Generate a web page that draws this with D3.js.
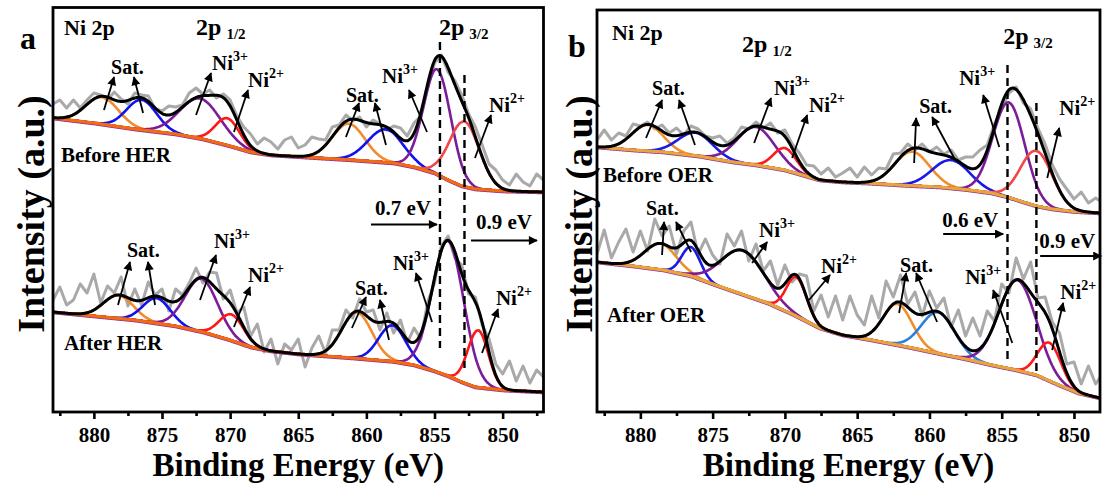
<!DOCTYPE html>
<html><head><meta charset="utf-8">
<script src="https://cdn.jsdelivr.net/npm/d3@7"></script>
<style>
body{margin:0;background:#fff}
text{font-family:"Liberation Serif","Times New Roman",serif;font-weight:bold;fill:#000}
</style>
</head><body>
<svg id="c" width="1102" height="491"></svg>
<script>
// ---------------- DATA ----------------
const tickValues = [880, 875, 870, 865, 860, 855, 850];
const minorTickValues = [882.5, 877.5, 872.5, 867.5, 862.5, 857.5, 852.5, 847.5];
const xTitle = "Binding Energy (eV)";
const yTitle = "Intensity (a.u.)";

// raw (gray) spectra, energy grids in eV (0.5 eV steps)
const rawEnergyA = d3.range(883, 846.99, -0.5);
const rawEnergyB = d3.range(883, 847.99, -0.5);
const rawBeforeHER = [308,312,304,312,304,312,319,317,312,320,313,308,319,317,316,303,301,306,305,307,319,324,318,322,314,318,312,296,285,278,268,274,270,263,272,275,264,267,275,273,272,285,287,297,291,295,285,292,288,282,286,284,276,289,296,324,349,357,340,331,317,298,285,267,248,242,232,227,238,230,226,238,232];
const rawAfterHER = [112,125,107,112,128,119,138,109,126,119,135,106,123,107,130,117,123,101,123,117,129,144,129,140,139,113,122,99,105,76,88,60,73,48,68,62,73,45,64,76,59,82,82,102,94,113,100,102,82,99,79,92,69,84,73,110,129,166,176,154,147,118,115,87,73,48,38,51,31,46,29,42,35];
const rawBeforeOER = [272,282,272,279,276,288,286,290,283,287,279,284,277,286,283,276,274,276,269,274,285,283,290,284,289,279,282,268,259,247,246,238,244,235,239,244,235,245,237,244,243,258,259,268,262,268,260,265,258,262,252,255,255,262,267,288,303,319,325,309,303,284,268,247,233,223,213,220,209,214,209];
const rawAfterOER = [158,182,154,170,183,160,181,161,193,176,186,158,181,190,158,173,157,148,178,166,181,151,168,141,151,127,147,130,138,136,101,117,95,116,92,116,97,87,116,94,131,115,137,108,120,96,121,104,114,85,102,76,94,76,101,91,128,119,154,133,150,114,115,90,79,48,50,28,46,28,39];

// Shirley-type backgrounds [eV, intensity]
const bgBeforeHER = [[883,294],[880,289],[877,283],[874,278],[872,273],[870,266],[868.5,260],[867,257],[864,254.5],[861,252],[858,249],[856.5,245],[855,239],[854,232],[853,226],[852,223],[850,221],[847,220]];
const bgAfterHER = [[883,100],[880,96],[877,92],[874,86],[872,80],[870,72],[868.5,65],[867,61],[865,58],[861,54],[858,50.5],[856.5,47],[855,41],[854,36],[853,30],[852,25],[850,22],[847,20]];
const bgBeforeOER = [[883,265],[880.5,262],[878.4,260],[876,256],[873.6,250],[872,247],[870,242],[868.8,237],[867.6,232],[866,230],[864,228.7],[861.5,226.5],[859.3,225],[857.5,222.5],[855.7,219],[854.6,215],[853.5,210],[852.6,206],[851.5,203],[850,200.5],[848.2,199]];
const bgAfterOER = [[883,150],[880.5,146],[878.4,142],[876.5,136],[874.8,127],[873,118],[871.2,109],[869.5,98],[867.6,84],[866,77],[864,72],[861.5,65],[859.2,58],[857.5,53],[855.7,47],[854,42],[852.6,37],[851.2,28],[849.7,19],[848.2,14]];

// fitted components: [centre eV, height, sigma eV]; order = Sat, Sat, Ni3+, Ni2+ (2p1/2), Sat, Sat, Ni3+, Ni2+ (2p3/2)
const componentNames = ["Sat.", "Sat.", "Ni3+", "Ni2+", "Sat.", "Sat.", "Ni3+", "Ni2+"];
const peaksBeforeHER = [[879.4,27,1.2],[876.5,30,1.1],[872.2,40,1.5],[870.2,27,0.9],[861.3,36,1.2],[858.6,33,1.3],[854.8,105,1.0],[852.8,65,1.1]];
const peaksAfterHER  = [[878.2,23,1.1],[875.4,25,1.0],[872.1,53,1.2],[869.9,26,0.9],[860.7,46,1.1],[858.1,36,1.0],[854.0,135,1.15],[851.8,57,0.75]];
const peaksBeforeOER = [[879.5,26,1.1],[876.2,23,1.2],[872.0,38,1.3],[870.0,22,0.8],[861.2,34,1.2],[858.5,28,1.3],[854.5,95,1.1],[852.6,55,1.1]];
const peaksAfterOER  = [[878.6,26,1.1],[876.5,29,0.65],[872.9,44,1.5],[869.2,39,0.7],[862.2,41,1.0],[859.4,41,1.15],[853.9,90,1.3],[851.7,38,0.8]];

// reference lines (eV)
const refLinesA = [854.6, 852.8];
const refLinesB = [854.6, 852.6];

// ---------------- LAYOUT / STYLE ----------------
const FONT = '"Liberation Serif","Times New Roman",serif';
const svg = d3.select("#c");
const defs = svg.append("defs");
defs.append("marker").attr("id","ah").attr("viewBox","0 0 10 10").attr("refX",9).attr("refY",5)
  .attr("markerWidth",10).attr("markerHeight",9).attr("markerUnits","userSpaceOnUse").attr("orient","auto")
  .append("path").attr("d","M0,0 L10,5 L0,10 z").attr("fill","#000");

const panels = [
  {id:"a", letter:"a", x0:53, x1:543.5, y0:7.5, y1:412, dom:[883,847],
   bgColor:"#F26A12", refLines:refLinesA,
   spectra:[
     {raw:rawBeforeHER, e:rawEnergyA, bg:bgBeforeHER, peaks:peaksBeforeHER, colors:["#F28A2E","#1212EE","#7B1D9A","#FF1616","#F28A2E","#1212EE","#7B1D9A","#F04848"]},
     {raw:rawAfterHER, e:rawEnergyA, bg:bgAfterHER, peaks:peaksAfterHER, colors:["#F28A2E","#1212EE","#7B1D9A","#FF1616","#F28A2E","#1212EE","#7B1D9A","#FF1616"]}
   ],
   refSpan:[[370,64],[337,44]],
   letterPos:[28,49], yTitleX:44,
   texts:[
     {t:"Ni 2p",e:882.19,i:377,fs:22},
     {t:"2p",sub:"1/2",e:872.5,i:377,fs:24},
     {t:"2p",sub:"3/2",e:854.67,i:377,fs:24},
     {t:"Sat.",e:878.74,i:338,fs:20},
     {t:"Ni",sup:"3+",e:871.33,i:342,fs:21},
     {t:"Ni",sup:"2+",e:868.69,i:325,fs:21},
     {t:"Sat.",e:861.5,i:310,fs:20},
     {t:"Ni",sup:"3+",e:858.85,i:329,fs:21},
     {t:"Ni",sup:"2+",e:851.0,i:300,fs:21},
     {t:"Before HER",e:882.41,i:250,fs:21},
     {t:"Sat.",e:877.57,i:155,fs:20},
     {t:"Ni",sup:"3+",e:871.18,i:164,fs:21},
     {t:"Ni",sup:"2+",e:868.69,i:130,fs:21},
     {t:"Sat.",e:860.83,i:117,fs:20},
     {t:"Ni",sup:"3+",e:858.05,i:142,fs:21},
     {t:"Ni",sup:"2+",e:850.49,i:107,fs:21},
     {t:"After HER",e:882.19,i:62,fs:21},
     {t:"0.7 eV",e:859.37,i:197,fs:21},
     {t:"0.9 eV",e:851.95,i:183,fs:21}
   ],
   arrows:[
     [879.26,302,878.52,335],[876.39,299,877.06,335],[872.5,297,871.4,339],[869.72,280,868.69,322],
     [861.5,275,860.54,309],[858.56,267,859.37,309],[855.55,280,856.87,322],[852.03,254,850.85,297],
     [878.23,107,877.35,150],[875.51,107,876.03,150],[872.21,112,871.04,157],[869.72,85,868.54,125],
     [861.06,84,860.03,115],[858.34,72,859.0,112],[855.18,90,856.36,139],[851.51,59,850.34,103],
     [859.66,187.5,854.82,187.5],[852.32,171.5,847.48,171.5]
   ]},
  {id:"b", letter:"b", x0:597, x1:1100, y0:10, y1:412, dom:[883,848.2],
   bgColor:"#E9A53C", refLines:refLinesB,
   spectra:[
     {raw:rawBeforeOER, e:rawEnergyB, bg:bgBeforeOER, peaks:peaksBeforeOER, colors:["#F08E2C","#1A1AE6","#7B1D9A","#FF1A1A","#F08E2C","#1A1AE6","#7B1D9A","#F04848"]},
     {raw:rawAfterOER, e:rawEnergyB, bg:bgAfterOER, peaks:peaksAfterOER, colors:["#F08E2C","#1A1AE6","#7B1D9A","#FF1A1A","#F08E2C","#2A80DA","#7B1D9A","#FF1A1A"]}
   ],
   refSpan:[[347,49],[309,36]],
   letterPos:[577,57], yTitleX:592,
   texts:[
     {t:"Ni 2p",e:881.96,i:372,fs:22},
     {t:"2p",sub:"1/2",e:872.96,i:360,fs:24},
     {t:"2p",sub:"3/2",e:854.9,i:368,fs:24},
     {t:"Sat.",e:879.19,i:317,fs:20},
     {t:"Ni",sup:"3+",e:870.75,i:317,fs:21},
     {t:"Ni",sup:"2+",e:868.33,i:300,fs:21},
     {t:"Sat.",e:860.71,i:299,fs:20},
     {t:"Ni",sup:"3+",e:857.94,i:327,fs:21},
     {t:"Ni",sup:"2+",e:851.02,i:297,fs:21},
     {t:"Before OER",e:882.58,i:230,fs:21},
     {t:"Sat.",e:879.61,i:197,fs:20},
     {t:"Ni",sup:"3+",e:871.79,i:175,fs:21},
     {t:"Ni",sup:"2+",e:867.5,i:139,fs:21},
     {t:"Sat.",e:862.03,i:140,fs:20},
     {t:"Ni",sup:"3+",e:857.53,i:128,fs:21},
     {t:"Ni",sup:"2+",e:850.95,i:113,fs:21},
     {t:"After OER",e:882.31,i:90,fs:21},
     {t:"0.6 eV",e:859.12,i:185,fs:21},
     {t:"0.9 eV",e:852.41,i:164,fs:21}
   ],
   arrows:[
     [879.61,274,878.5,312],[876.22,267,877.32,312],[872.13,269,870.96,314],[869.5,254,868.46,297],
     [861.06,249,860.92,294],[858.29,254,859.81,295],[855.17,265,856.28,317],[851.85,234,851.02,284],
     [878.5,157,878.36,190],[876.49,160,877.53,190],[872.27,149,871.23,170],[868.33,112,866.88,137],
     [862.1,99,861.61,139],[859.47,90,860.92,139],[854.27,69,855.59,122],[851.51,62,850.75,109],
     [859.05,178,854.9,178],[852.34,156,848.11,156]
   ]}
];

function gauss(e, c, h, s){ return h*Math.exp(-((e-c)*(e-c))/(2*s*s)); }

panels.forEach(p => {
  const x = d3.scaleLinear().domain(p.dom).range([p.x0, p.x1]);
  const y = d3.scaleLinear().domain([0, p.y1 - p.y0]).range([p.y1, p.y0]);
  defs.append("clipPath").attr("id","clip"+p.id).append("rect")
    .attr("x",p.x0).attr("y",p.y0).attr("width",p.x1-p.x0).attr("height",p.y1-p.y0);
  const g = svg.append("g").attr("clip-path","url(#clip"+p.id+")");
  const grid = d3.range(p.dom[0]+0.5, p.dom[1]-0.6, -0.05);
  const rawLine = d3.line().x(d=>x(d[0])).y(d=>y(d[1])).curve(d3.curveLinear);
  const smooth = d3.line().x(d=>x(d[0])).y(d=>y(d[1])).curve(d3.curveBasis);

  p.spectra.forEach(s => {
    const bgf = d3.scaleLinear().domain(s.bg.map(d=>d[0])).range(s.bg.map(d=>d[1])).clamp(true);
    // raw data
    g.append("path").datum(s.raw.map((v,i)=>[s.e[i], v]))
      .attr("d", rawLine).attr("fill","none").attr("stroke","#A9A9A9").attr("stroke-width",3).attr("stroke-linejoin","round");
    // components
    s.peaks.forEach((pk,k) => {
      g.append("path").datum(grid.map(e=>[e, bgf(e)+gauss(e,pk[0],pk[1],pk[2])]))
        .attr("d", smooth).attr("fill","none").attr("stroke",s.colors[k]).attr("stroke-width",2.6);
    });
    // background
    const bgPts = grid.map(e=>[e, bgf(e)]);
    g.append("path").datum(bgPts).attr("d", smooth).attr("fill","none")
      .attr("stroke","#8A2BA0").attr("stroke-width",1.4).attr("transform","translate(0,1.6)");
    g.append("path").datum(bgPts).attr("d", smooth).attr("fill","none")
      .attr("stroke",p.bgColor).attr("stroke-width",3.2);
    // envelope
    g.append("path").datum(grid.map(e=>[e, bgf(e)+d3.sum(s.peaks, pk=>gauss(e,pk[0],pk[1],pk[2]))]))
      .attr("d", smooth).attr("fill","none").attr("stroke","#000").attr("stroke-width",3);
  });

  // dashed reference lines
  p.refLines.forEach((ev,k) => {
    svg.append("line").attr("x1",x(ev)).attr("x2",x(ev))
      .attr("y1",y(p.refSpan[k][0])).attr("y2",y(p.refSpan[k][1]))
      .attr("stroke","#000").attr("stroke-width",2.4).attr("stroke-dasharray","8,5");
  });

  // arrows
  p.arrows.forEach(a => {
    svg.append("line").attr("x1",x(a[0])).attr("y1",y(a[1])).attr("x2",x(a[2])).attr("y2",y(a[3]))
      .attr("stroke","#000").attr("stroke-width",1.8).attr("marker-end","url(#ah)");
  });

  // texts
  p.texts.forEach(t => {
    const tx = svg.append("text").attr("x",x(t.e)).attr("y",y(t.i)).attr("font-size",t.fs).text(t.t);
    if (t.sup) tx.append("tspan").attr("font-size",14).attr("dy",-9).text(t.sup);
    if (t.sub) tx.append("tspan").attr("font-size",15).attr("dx",5).attr("dy",4).text(t.sub);
  });

  // frame
  svg.append("rect").attr("x",p.x0).attr("y",p.y0).attr("width",p.x1-p.x0).attr("height",p.y1-p.y0)
    .attr("fill","none").attr("stroke","#000").attr("stroke-width",2.8);

  // axes
  const ax = svg.append("g").attr("transform",`translate(0,${p.y1})`)
    .call(d3.axisBottom(x).tickValues(tickValues).tickSize(7).tickPadding(8).tickFormat(d3.format("d")));
  ax.select(".domain").remove();
  ax.selectAll(".tick line").attr("stroke","#000").attr("stroke-width",2.6);
  ax.selectAll(".tick text").attr("font-size",21).style("font-family",FONT).style("font-weight","bold");
  const axm = svg.append("g").attr("transform",`translate(0,${p.y1})`)
    .call(d3.axisBottom(x).tickValues(minorTickValues.filter(v=>v<=p.dom[0]&&v>=p.dom[1])).tickSize(4).tickFormat(""));
  axm.select(".domain").remove();
  axm.selectAll(".tick line").attr("stroke","#000").attr("stroke-width",2.6);

  // axis titles
  svg.append("text").attr("x",(p.x0+p.x1)/2).attr("y",476).attr("text-anchor","middle").attr("font-size",33).text(xTitle);
  svg.append("text").attr("transform",`translate(${p.yTitleX},214) rotate(-90)`).attr("text-anchor","middle").attr("font-size",38).text(yTitle);
  svg.append("text").attr("x",p.letterPos[0]).attr("y",p.letterPos[1]).attr("text-anchor","middle").attr("font-size",32).text(p.letter);
});
</script>
</body></html>
